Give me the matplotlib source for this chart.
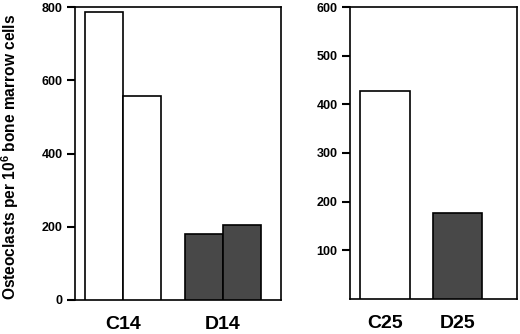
import matplotlib
matplotlib.use('Agg')
import matplotlib.pyplot as plt

# values
left_groups = ['C14', 'D14']
left_values = [[786, 558], [180, 204]]
right_groups = ['C25', 'D25']
right_values = [428, 176]

left_yticks = [0, 200, 400, 600, 800]
right_yticks = [100, 200, 300, 400, 500, 600]

plt.rcParams['font.family'] = ['Liberation Sans', 'DejaVu Sans']
plt.rcParams['font.weight'] = 'bold'
plt.rcParams['mathtext.fontset'] = 'custom'
plt.rcParams['mathtext.bf'] = 'Liberation Sans:bold'
plt.rcParams['mathtext.rm'] = 'Liberation Sans:bold'
plt.rcParams['mathtext.default'] = 'bf'

fill_colors = ['white', '#484848']
lw = 1.2

fig = plt.figure(figsize=(5.2, 3.34), dpi=100)
ax1 = fig.add_axes([75 / 520, 34.3 / 334, 206 / 520, 292.4 / 334])
ax2 = fig.add_axes([350 / 520, 35.3 / 334, 166.7 / 520, 291.6 / 334])

# left panel: two bars per group
group_starts = [0, 2.61]
for g, start in enumerate(group_starts):
    for i, v in enumerate(left_values[g]):
        ax1.bar(start + i * 0.99, v, width=0.99, align='edge',
                color=fill_colors[g], edgecolor='black', linewidth=lw, zorder=3)
ax1.set_xlim(-0.26, 5.12)
ax1.set_ylim(0, 800)
ax1.set_xticks([s + 0.99 for s in group_starts])
ax1.set_xticklabels(left_groups)
ax1.set_yticks(left_yticks)
ax1.set_ylabel(r'Osteoclasts per 10$^{6}$ bone marrow cells', fontsize=11.2,
               fontweight='bold')
ax1.yaxis.set_label_coords(-0.262, 0.49)

# right panel: one bar per group
right_starts = [0.2, 1.66]
for g, start in enumerate(right_starts):
    ax2.bar(start, right_values[g], width=1.0, align='edge',
            color=fill_colors[g], edgecolor='black', linewidth=lw, zorder=3)
ax2.set_xlim(0, 3.35)
ax2.set_ylim(0, 600)
ax2.set_xticks([s + 0.5 for s in right_starts])
ax2.set_xticklabels(right_groups)
ax2.set_yticks(right_yticks)

for ax in (ax1, ax2):
    for sp in ax.spines.values():
        sp.set_linewidth(lw)
    ax.tick_params(axis='x', length=0, labelsize=14, pad=12)
    ax.tick_params(axis='y', direction='out', length=6, width=1.5,
                   labelsize=9, pad=3)
    for lab in ax.get_xticklabels() + ax.get_yticklabels():
        lab.set_fontweight('bold')

fig.savefig('out.png', dpi=100)
